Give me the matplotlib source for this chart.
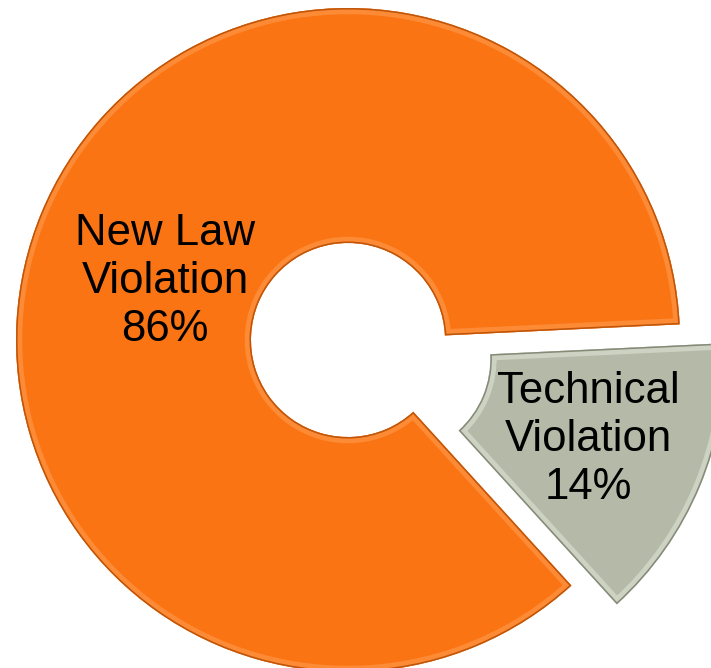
import matplotlib
matplotlib.use('Agg')
import matplotlib.pyplot as plt
from matplotlib.patches import Wedge
import numpy as np

labels = ['New Law\nViolation\n86%', 'Technical\nViolation\n14%']
values = [86, 14]
colors = ['#FA7414', '#B4BAA7']
rim_light = ['#FD8A35', '#CDD2C2']
rim_dark = ['#BE550A', '#858B78']

fig = plt.figure(figsize=(7.11, 6.68), dpi=100)
ax = fig.add_axes([0, 0, 1, 1])

center = (348, 328)
radius = 332
hole = 97

wedges, _ = ax.pie(values, colors=colors, startangle=2.7, center=center, radius=radius,
                   explode=[0, 0.148 * radius], wedgeprops={'width': radius - hole, 'linewidth': 0})

# fake bevel: light band then darker rim, clipped inside each wedge
for i, w in enumerate(wedges):
    for lw, c in [(9, rim_light[i]), (2.2, rim_dark[i])]:
        rim = Wedge(w.center, w.r, w.theta1, w.theta2, width=w.width,
                    facecolor='none', edgecolor=c, linewidth=lw)
        ax.add_patch(rim)
        rim.set_clip_path(w)

# labels (angle, distance from wedge centre)
for i, w in enumerate(wedges):
    if i == 0:
        ang, r = np.deg2rad(162.2), 192
    else:
        ang, r = np.deg2rad((w.theta1 + w.theta2) / 2), 211
    x = w.center[0] + r * np.cos(ang)
    y = w.center[1] + r * np.sin(ang)
    ax.text(x, y, labels[i], ha='center', va='center', fontsize=31.5,
            family=['Liberation Sans', 'DejaVu Sans'],
            linespacing=1.22, color='black')

ax.set_xlim(0, 711)
ax.set_ylim(0, 668)
ax.set_aspect('equal')
ax.axis('off')

fig.savefig('out.png', dpi=100, facecolor='white')
